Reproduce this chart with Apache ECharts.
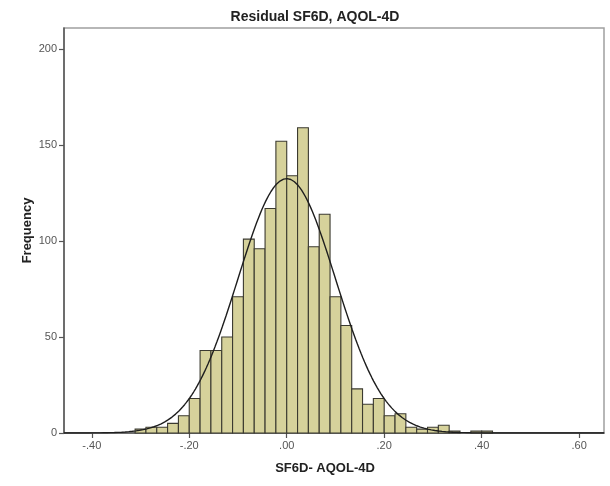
<!DOCTYPE html>
<html>
<head>
<meta charset="utf-8">
<title>Residual SF6D, AQOL-4D</title>
<script src="https://cdn.jsdelivr.net/npm/echarts@6/dist/echarts.min.js"></script>
<style>
  html, body { margin: 0; padding: 0; background: #ffffff; }
  #chart { width: 610px; height: 486px; }
</style>
</head>
<body>
<div id="chart"></div>
<script>
// Histogram of residuals (SF6D - AQOL-4D) with a fitted normal curve.

// Bin layout: bins are binWidth wide, the first one starts at firstBin * binWidth.
const binWidth = 0.2 / 9;
const firstBin = -14;

// Frequency in each consecutive bin, left to right.
const counts = [
  2, 3, 3, 5, 9, 18, 43, 43, 50, 71,
  101, 96, 117, 152, 134, 159, 97, 114, 71, 56,
  23, 15, 18, 9, 10, 3, 2, 3, 4, 1,
  0, 1, 1
];

// Fitted normal distribution parameters.
const fitMean = 0.0;
const fitSd = 0.1;
const fitN = 1495;

// Axis ticks.
const xTicks = [-0.4, -0.2, 0.0, 0.2, 0.4, 0.6];
const yTicks = [0, 50, 100, 150, 200];
const xMin = -0.457, xMax = 0.651;
const yMax = 211;

const barData = counts.map((c, i) => {
  const left = (firstBin + i) * binWidth;
  return [left, left + binWidth, c];
});

// Normal curve scaled to the histogram's frequency units.
const curveData = [];
const steps = 300;
for (let i = 0; i <= steps; i++) {
  const x = xMin + (xMax - xMin) * i / steps;
  const z = (x - fitMean) / fitSd;
  const y = fitN * binWidth * Math.exp(-0.5 * z * z) / (fitSd * Math.sqrt(2 * Math.PI));
  curveData.push([x, y]);
}

const fmtX = v => {
  const s = Math.abs(v).toFixed(2).replace(/^0\./, '.');
  return (v < -1e-9 ? '-' : '') + s;
};

const font = '"Liberation Sans", Arial, sans-serif';

const chart = echarts.init(document.getElementById('chart'), null, { renderer: 'canvas' });
chart.setOption({
  animation: false,
  backgroundColor: '#ffffff',
  title: {
    text: 'Residual SF6D, AQOL-4D',
    left: 310,
    textAlign: 'center',
    top: 5,
    textStyle: { fontFamily: font, fontSize: 14, fontWeight: 'bold', color: '#222' }
  },
  grid: {
    left: 64, right: 6, top: 28, bottom: 53,
    show: true,
    borderColor: '#a0a0a0',
    borderWidth: 1.5
  },
  xAxis: {
    type: 'value',
    min: xMin,
    max: xMax,
    name: 'SF6D- AQOL-4D',
    nameLocation: 'middle',
    nameGap: 29,
    nameTextStyle: { fontFamily: font, fontSize: 13, fontWeight: 'bold', color: '#222', padding: [0, 18, 0, 0] },
    axisLine: { show: true, onZero: false, lineStyle: { color: '#555', width: 1.5 } },
    axisTick: { show: true, customValues: xTicks, length: 5, lineStyle: { color: '#555', width: 1.2 } },
    axisLabel: {
      customValues: xTicks,
      formatter: fmtX,
      margin: 7,
      fontFamily: font, fontSize: 11, color: '#555'
    },
    splitLine: { show: false }
  },
  yAxis: {
    type: 'value',
    min: 0,
    max: yMax,
    interval: 50,
    name: 'Frequency',
    nameLocation: 'middle',
    nameGap: 30,
    nameMoveOverlap: false,
    nameTextStyle: { fontFamily: font, fontSize: 13, fontWeight: 'bold', color: '#222' },
    axisLine: { show: true, onZero: false, lineStyle: { color: '#555', width: 1.5 } },
    axisTick: { show: true, customValues: yTicks, length: 5, lineStyle: { color: '#555', width: 1.2 } },
    axisLabel: {
      customValues: yTicks,
      margin: 7,
      fontFamily: font, fontSize: 11, color: '#555'
    },
    splitLine: { show: false }
  },
  series: [
    {
      type: 'custom',
      name: 'Frequency',
      data: barData,
      encode: { x: [0, 1], y: 2 },
      renderItem: function (params, api) {
        const c = api.value(2);
        if (!c) return null;
        const topLeft = api.coord([api.value(0), c]);
        const bottomRight = api.coord([api.value(1), 0]);
        return {
          type: 'rect',
          shape: {
            x: topLeft[0],
            y: topLeft[1],
            width: bottomRight[0] - topLeft[0],
            height: bottomRight[1] - topLeft[1]
          },
          style: { fill: '#d6d29b', stroke: '#3b3a30', lineWidth: 1.1 }
        };
      },
      z: 2
    },
    {
      type: 'line',
      name: 'Normal',
      data: curveData,
      showSymbol: false,
      smooth: false,
      lineStyle: { color: '#1e1e1e', width: 1.4 },
      z: 3
    }
  ]
});
</script>
</body>
</html>
